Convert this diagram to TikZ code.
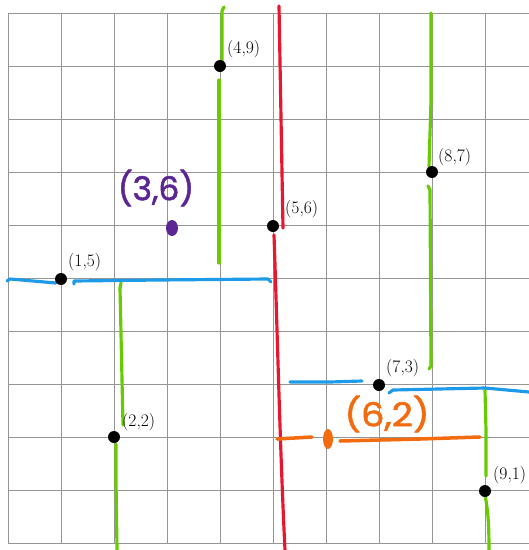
\documentclass[tikz,border=0pt]{standalone}
\usepackage{fontspec}
\newfontfamily\hand[FakeBold=1.6]{Poppins}
\definecolor{gridgray}{HTML}{959595}
\definecolor{pgreen}{HTML}{66CC00}
\definecolor{pred}{HTML}{E8162E}
\definecolor{pblue}{HTML}{1E9BE8}
\definecolor{porange}{HTML}{F26B0F}
\definecolor{ppurple}{HTML}{5B2594}
\begin{document}
\begin{tikzpicture}[x=0.03cm, y=-0.03cm,
  gridline/.style={draw=gridgray, line width=0.8pt},
  pen/.style={line width=2.7pt, line cap=round, line join=round},
  pt/.style={circle, fill=black, inner sep=0pt, minimum size=0.36cm},
  lab/.style={anchor=west, inner sep=0pt, font=\fontsize{15}{17}\selectfont},
  handtext/.style={inner sep=0pt, font=\hand\fontsize{28}{30}\selectfont}]
\useasboundingbox (0,0) rectangle (529,550);
% grid
\foreach \i in {0,...,9} \draw[gridline] ({8+53*\i},13) -- ({8+53*\i},543);
\foreach \j in {0,...,10} \draw[gridline] (8,{13+53*\j}) -- (529,{13+53*\j});
% green verticals
\draw[pen, pgreen] (224,7) -- (222,11) -- (222,64);
\draw[pen, pgreen] (219,80) -- (219,263);
\draw[pen, pgreen] (121,283) -- (120,288) -- (123,425);
\draw[pen, pgreen] (116,444) -- (116,480) -- (117,550);
\draw[pen, pgreen] (431,13) -- (431,100) -- (429,167);
\draw[pen, pgreen] (428,186) -- (430,190) -- (431,366) -- (429,369);
\draw[pen, pgreen] (485,390) -- (486,430) -- (486,476);
\draw[pen, pgreen] (485,495) .. controls (488,510) and (489,525) .. (489,550);
% red
\draw[pen, pred] (279,6) -- (283,228);
\draw[pen, pred] (274,235) .. controls (277,320) and (280,450) .. (285,550);
% blue y=5
\draw[pen, pblue] (7,281) -- (10,279) -- (56,283);
\draw[pen, pblue] (74,284) -- (74,281) -- (160,280) -- (268,279) -- (271,282);
% blue y=3
\draw[pen, pblue] (290,382) -- (330,382) -- (362,381);
\draw[pen, pblue] (389,393) -- (393,390) -- (485,388) -- (529,392);
% orange y=2
\draw[pen, porange, line width=3pt] (277,439) -- (312,437);
\draw[pen, porange, line width=3pt] (340,441) -- (420,439) -- (480,437);
\fill[porange] (328,439) ellipse [x radius=5, y radius=10];
% purple dot
\fill[ppurple] (172,228) ellipse [x radius=6, y radius=8];
% handwritten labels
\node[handtext, text=porange, xscale=1.12] (t62) at (387,414) {(6,2)};
\node[handtext, text=ppurple] (t36) at (156,188) {(3,6)};
% points
\node[pt] (p49) at (220,66) {};
\node[pt] (p56) at (273,226) {};
\node[pt] (p15) at (61,279) {};
\node[pt] (p22) at (114,437) {};
\node[pt] (p87) at (432,172) {};
\node[pt] (p73) at (379,385) {};
\node[pt] (p91) at (485,491) {};
% point labels
\node[lab] (l49) at (227,49) {(4,9)};
\node[lab] (l56) at (285,209) {(5,6)};
\node[lab] (l15) at (68,262) {(1,5)};
\node[lab] (l22) at (122,422) {(2,2)};
\node[lab] (l87) at (438,157) {(8,7)};
\node[lab] (l73) at (386,368) {(7,3)};
\node[lab] (l91) at (493,475) {(9,1)};
\end{tikzpicture}
\end{document}
